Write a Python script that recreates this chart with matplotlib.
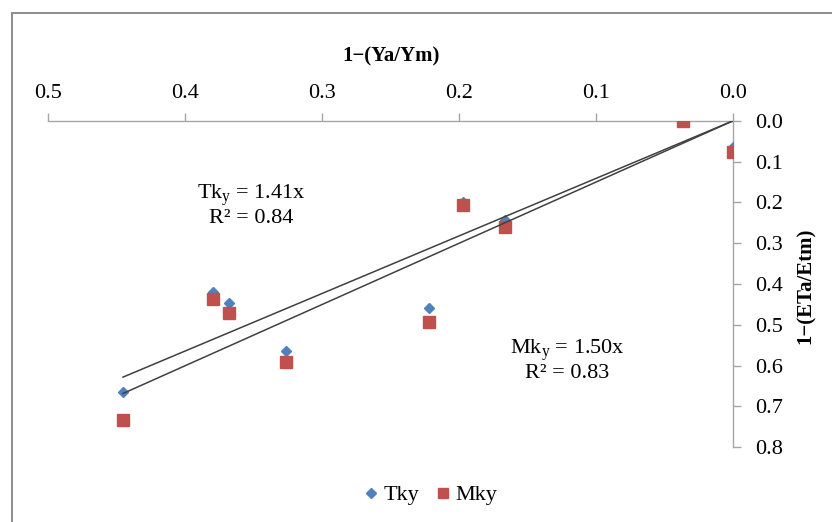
import matplotlib
matplotlib.use("Agg")
import matplotlib.pyplot as plt
from matplotlib.patches import Rectangle
from matplotlib.lines import Line2D
import numpy as np

plt.rcParams['font.family'] = ['Liberation Serif', 'DejaVu Serif']
plt.rcParams['mathtext.fontset'] = 'custom'
plt.rcParams['mathtext.rm'] = 'Liberation Serif'
plt.rcParams['mathtext.it'] = 'Liberation Serif:italic'
plt.rcParams['mathtext.default'] = 'regular'

# ---- data ----
yield_gap = [0.4455, 0.3795, 0.3682, 0.3265, 0.2221, 0.1970, 0.1668, 0.0364, 0.0]
tky = [0.665, 0.419, 0.446, 0.563, 0.459, 0.198, 0.243, 0.0, 0.064]
mky = [0.734, 0.437, 0.472, 0.591, 0.492, 0.206, 0.261, 0.0, 0.077]
series_names = ["Tky", "Mky"]
slopes = [1.41, 1.50]
r2_values = [0.84, 0.83]
x_ticks = [0.5, 0.4, 0.3, 0.2, 0.1, 0.0]
y_ticks = [0.0, 0.1, 0.2, 0.3, 0.4, 0.5, 0.6, 0.7, 0.8]

blue = '#4F81BD'
red = '#C0504D'
axis_gray = '#A6A6A6'

fig = plt.figure(figsize=(8.32, 5.22), dpi=100)
W, H = 832, 522
left, right = 48.3 / W, 733.3 / W
top, bottom = 1 - 120.7 / H, 1 - 447.3 / H
ax = fig.add_axes([left, bottom, right - left, top - bottom])

# outer chart border (left/top visible)
fig.patches.append(Rectangle((12 / W, -0.2), 1.5, 1 - 13 / H + 0.2,
                             transform=fig.transFigure, facecolor='none',
                             edgecolor='#8C8C8C', linewidth=1.4))

ax.plot(yield_gap, tky, linestyle='none', marker='D', markersize=5.6,
        color=blue, markeredgecolor=blue, label=series_names[0], zorder=3)
ax.plot(yield_gap, mky, linestyle='none', marker='s', markersize=8.4,
        color=red, markeredgecolor=red, label=series_names[1], zorder=4)

xmax = max(yield_gap)
xs = np.array([0.0, xmax])
for s in slopes:
    ax.plot(xs, s * xs, color='#404040', linewidth=1.1, zorder=5)

ax.set_xlim(0.5, 0.0)
ax.set_ylim(0.8, 0.0)
ax.set_xticks(x_ticks)
ax.set_yticks(y_ticks)
ax.set_xticklabels([f"{v:.1f}" for v in x_ticks])
ax.set_yticklabels([f"{v:.1f}" for v in y_ticks])

ax.xaxis.tick_top()
ax.yaxis.tick_right()
for side in ['left', 'bottom']:
    ax.spines[side].set_visible(False)
for side in ['top', 'right']:
    ax.spines[side].set_color(axis_gray)
    ax.spines[side].set_linewidth(1.0)
ax.tick_params(axis='both', direction='out', length=5.8, width=1.0,
               color=axis_gray, labelsize=16, labelcolor='black')
ax.tick_params(axis='x', pad=7)
ax.tick_params(axis='y', pad=10)

ax.xaxis.set_label_position('top')
ax.set_xlabel("1−(Ya/Ym)", fontsize=15, fontweight='bold', va='center')
ax.xaxis.set_label_coords(0.5, (447.3 - 56.7) / 326.6)
ax.yaxis.set_label_position('right')
ax.set_ylabel("1−(ETa/Etm)", fontsize=15, fontweight='bold', va='center',
              rotation=90)
ax.yaxis.set_label_coords((806 - 48.3) / 685.0, (447.3 - 286) / 326.6)

ax.text(0.352, 0.2076, f"Tk$_y$ = {slopes[0]:.2f}x\nR² = {r2_values[0]:.2f}",
        ha='center', va='center', fontsize=16, linespacing=1.05)
ax.text(0.1213, 0.587, f"Mk$_y$ = {slopes[1]:.2f}x\nR² = {r2_values[1]:.2f}",
        ha='center', va='center', fontsize=16, linespacing=1.05)

handles = [Line2D([], [], linestyle='none', marker='D', markersize=4.6,
                  color=blue, label=series_names[0]),
           Line2D([], [], linestyle='none', marker='s', markersize=7,
                  color=red, label=series_names[1])]
fig.legend(handles=handles, loc='center', ncol=2, frameon=False,
           bbox_to_anchor=(431 / W, 1 - 495 / H), fontsize=16,
           handlelength=0.6, handletextpad=0.25, columnspacing=0.8)

fig.savefig("out.png", dpi=100)
